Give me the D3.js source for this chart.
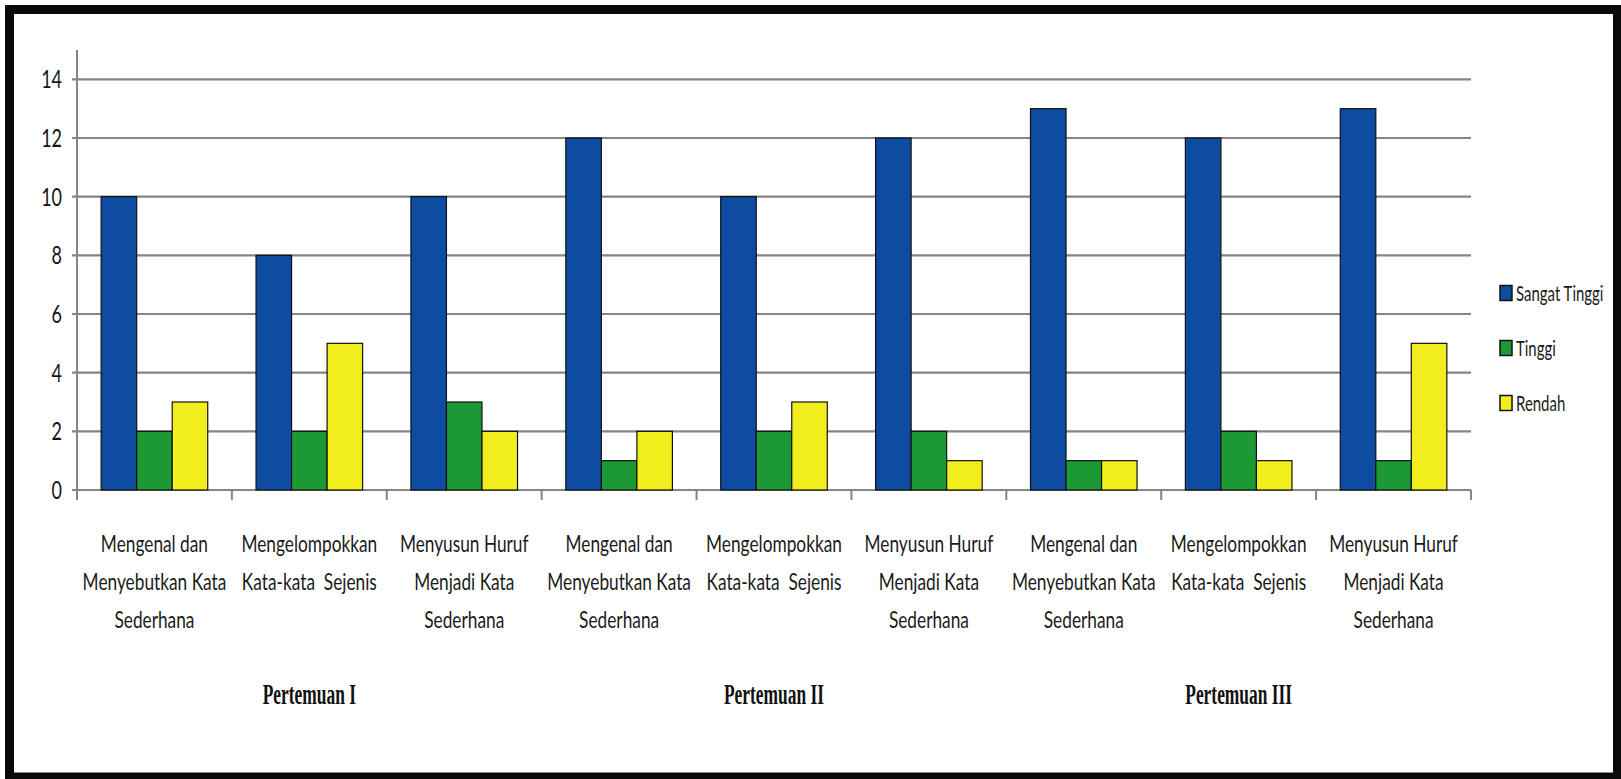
<!DOCTYPE html>
<html>
<head>
<meta charset="utf-8">
<script src="https://cdn.jsdelivr.net/npm/d3@7"></script>
<style>
  body { margin: 0; background: #fff; }
  text { font-family: Lato, "Open Sans", sans-serif; }
</style>
</head>
<body>
<script>
// category labels, one entry per line
const categories = [
    ["Mengenal dan", "Menyebutkan Kata", "Sederhana"],
    ["Mengelompokkan", "Kata-kata  Sejenis"],
    ["Menyusun Huruf", "Menjadi Kata", "Sederhana"],
    ["Mengenal dan", "Menyebutkan Kata", "Sederhana"],
    ["Mengelompokkan", "Kata-kata  Sejenis"],
    ["Menyusun Huruf", "Menjadi Kata", "Sederhana"],
    ["Mengenal dan", "Menyebutkan Kata", "Sederhana"],
    ["Mengelompokkan", "Kata-kata  Sejenis"],
    ["Menyusun Huruf", "Menjadi Kata", "Sederhana"]
];
const sessions = ["Pertemuan I", "Pertemuan II", "Pertemuan III"];
const sessionOf = [0, 0, 0, 1, 1, 1, 2, 2, 2];

const seriesNames = ["Sangat Tinggi", "Tinggi", "Rendah"];
const sangatTinggi = [10, 8, 10, 12, 10, 12, 13, 12, 13];
const tinggi = [2, 2, 3, 1, 2, 2, 1, 2, 1];
const rendah = [3, 5, 2, 2, 3, 1, 1, 1, 5];
const yTicks = [0, 2, 4, 6, 8, 10, 12, 14];

const colors = ["#0e4ca2", "#1c9935", "#f2ee1e"];
const series = [sangatTinggi, tinggi, rendah];

const w = 1621, h = 779;
const plotLeft = 77, plotRight = 1471, plotBottom = 490, plotTop = 50;
const sx = 0.72; // text in the picture is squeezed sideways

const svg = d3.select("body").append("svg")
    .attr("width", w).attr("height", h);

// black frame
svg.append("rect")
    .attr("x", 9.5).attr("y", 9.5)
    .attr("width", 1608).attr("height", 767.5)
    .attr("fill", "none").attr("stroke", "#0a0a0a").attr("stroke-width", 9);

const x0 = d3.scaleBand()
    .domain(d3.range(categories.length))
    .range([plotLeft, plotRight])
    .paddingInner(0).paddingOuter(0);

const x1 = d3.scaleBand()
    .domain(seriesNames)
    .range([0, x0.bandwidth()])
    .paddingInner(0).paddingOuter(0.68);

const yScale = d3.scaleLinear().domain([0, 15]).range([plotBottom, plotTop]);

// gridlines + small ticks
svg.append("g").selectAll("line")
    .data(yTicks)
    .enter().append("line")
    .attr("x1", plotLeft - 5).attr("x2", plotRight)
    .attr("y1", d => yScale(d)).attr("y2", d => yScale(d))
    .attr("stroke", "#858585").attr("stroke-width", 2.2);

// y axis line
svg.append("line")
    .attr("x1", plotLeft).attr("x2", plotLeft)
    .attr("y1", plotTop).attr("y2", plotBottom + 10)
    .attr("stroke", "#858585").attr("stroke-width", 2);

// category ticks on the x axis
const bounds = d3.range(1, categories.length).map(i => x0(i)).concat([plotRight]);
svg.append("g").selectAll("line")
    .data(bounds)
    .enter().append("line")
    .attr("x1", d => d).attr("x2", d => d)
    .attr("y1", plotBottom).attr("y2", plotBottom + 10)
    .attr("stroke", "#858585").attr("stroke-width", 2);

// y tick labels
svg.append("g").selectAll("g")
    .data(yTicks)
    .enter().append("g")
    .attr("transform", d => "translate(62," + yScale(d) + ") scale(" + sx + ",1)")
    .append("text")
    .attr("text-anchor", "end")
    .attr("dy", "0.36em")
    .attr("font-size", 25)
    .attr("fill", "#151515")
    .text(d => d);

// bars
const groups = svg.append("g").selectAll("g")
    .data(categories.map((c, i) => i))
    .enter().append("g")
    .attr("transform", i => "translate(" + x0(i) + ",0)");

groups.selectAll("rect")
    .data(i => series.map((s, k) => ({ name: seriesNames[k], value: s[i], k: k })))
    .enter().append("rect")
    .attr("x", d => x1(d.name))
    .attr("y", d => yScale(d.value))
    .attr("width", x1.bandwidth())
    .attr("height", d => plotBottom - yScale(d.value))
    .attr("fill", d => colors[d.k])
    .attr("stroke", "#111")
    .attr("stroke-width", 1.2);

// category labels
const lineY = [552, 590, 628];
const labels = svg.append("g").selectAll("g")
    .data(categories)
    .enter().append("g")
    .attr("transform", (d, i) => "translate(" + (x0(i) + x0.bandwidth() / 2) + ",0) scale(" + sx + ",1)");

labels.selectAll("text")
    .data(d => d)
    .enter().append("text")
    .attr("text-anchor", "middle")
    .attr("y", (d, j) => lineY[j])
    .attr("font-size", 24)
    .attr("fill", "#1a1a1a")
    .style("white-space", "pre")
    .text(d => d);

// session titles under the middle category of each session
svg.append("g").selectAll("g")
    .data(sessions)
    .enter().append("g")
    .attr("transform", (d, s) => {
        const idx = sessionOf.map((v, i) => v === s ? i : -1).filter(i => i >= 0);
        const cx = d3.mean(idx, i => x0(i) + x0.bandwidth() / 2);
        return "translate(" + cx + ",704) scale(0.6,1)";
    })
    .append("text")
    .attr("text-anchor", "middle")
    .style("font-family", "'Liberation Serif', 'Times New Roman', serif")
    .attr("font-weight", "bold")
    .attr("font-size", 29)
    .attr("fill", "#111")
    .text(d => d);

// legend
const legend = svg.append("g").selectAll("g")
    .data(seriesNames)
    .enter().append("g")
    .attr("transform", (d, i) => "translate(1500," + (293 + i * 55) + ")");

legend.append("rect")
    .attr("x", 0).attr("y", -7.5)
    .attr("width", 12).attr("height", 15)
    .attr("fill", (d, i) => colors[i])
    .attr("stroke", "#111").attr("stroke-width", 1.5);

legend.append("g")
    .attr("transform", "translate(16,0) scale(0.68,1)")
    .append("text")
    .attr("dy", "0.36em")
    .attr("font-size", 22)
    .attr("fill", "#1a1a1a")
    .text(d => d);
</script>
</body>
</html>
